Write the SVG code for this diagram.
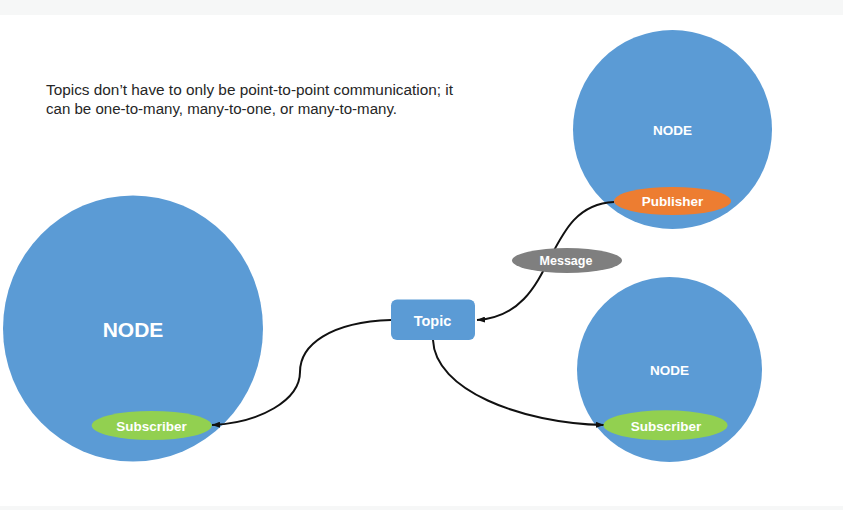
<svg xmlns="http://www.w3.org/2000/svg" width="843" height="510" viewBox="0 0 843 510">
<defs>
<style>
.node{fill:#5B9BD5}
.lbl{font-family:"Liberation Sans",Arial,sans-serif;font-weight:bold;fill:#ffffff;text-anchor:middle}
.edge{fill:none;stroke:#111111;stroke-width:2}
.note{font-family:"Liberation Sans",Arial,sans-serif;font-size:14px;fill:#262626}
</style>
<marker id="arrow" viewBox="0 0 8 6" refX="8" refY="3" markerWidth="8" markerHeight="6" markerUnits="userSpaceOnUse" orient="auto">
<path d="M0,0 L8,3 L0,6 z" fill="#111111"/>
</marker>
</defs>
<rect x="0" y="0" width="843" height="510" fill="#ffffff"/>
<rect x="0" y="0" width="843" height="15" fill="#f6f7f7"/>
<rect x="0" y="506" width="843" height="4" fill="#f6f7f7"/>

<g id="caption">
<text class="note" x="46" y="95" textLength="407" lengthAdjust="spacingAndGlyphs">Topics don’t have to only be point-to-point communication; it</text>
<text class="note" x="46" y="114" textLength="351" lengthAdjust="spacingAndGlyphs">can be one-to-many, many-to-one, or many-to-many.</text>
</g>

<g id="node-left">
<ellipse class="node" cx="133" cy="328.5" rx="130" ry="133"/>
<text class="lbl" x="133" y="337" font-size="21">NODE</text>
</g>
<g id="node-top-right">
<circle class="node" cx="672.5" cy="129.5" r="99.5"/>
<text class="lbl" x="672.5" y="135" font-size="13.5">NODE</text>
</g>
<g id="node-bottom-right">
<circle class="node" cx="669.5" cy="369.5" r="92.5"/>
<text class="lbl" x="669.5" y="375" font-size="13.5">NODE</text>
</g>

<g id="connectors">
<path class="edge" d="M614,202 C540,205 560,315 477,320" marker-end="url(#arrow)"/>
<path class="edge" d="M391,320 C330,322 300,345 300,372 C300,400 260,423 212,425" marker-end="url(#arrow)"/>
<path class="edge" d="M433,340 C435,390 520,423 604,425" marker-end="url(#arrow)"/>
</g>

<g id="publisher">
<ellipse cx="672.5" cy="201" rx="58.5" ry="14" fill="#ED7D31"/>
<text class="lbl" x="672.5" y="206" font-size="13.5">Publisher</text>
</g>
<g id="message">
<ellipse cx="567" cy="260.5" rx="55" ry="12.5" fill="#7F7F7F"/>
<text class="lbl" x="566" y="265" font-size="12.5">Message</text>
</g>
<g id="topic">
<rect x="391" y="299.5" width="84" height="40.5" rx="6" fill="#5B9BD5"/>
<text class="lbl" x="432.5" y="326" font-size="14.5">Topic</text>
</g>
<g id="subscriber-left">
<ellipse cx="151.7" cy="425.5" rx="60" ry="14.5" fill="#92D050"/>
<text class="lbl" x="151.5" y="430.5" font-size="13.5">Subscriber</text>
</g>
<g id="subscriber-right">
<ellipse cx="665.5" cy="425.3" rx="62" ry="15" fill="#92D050"/>
<text class="lbl" x="666" y="431" font-size="13.5">Subscriber</text>
</g>
</svg>
